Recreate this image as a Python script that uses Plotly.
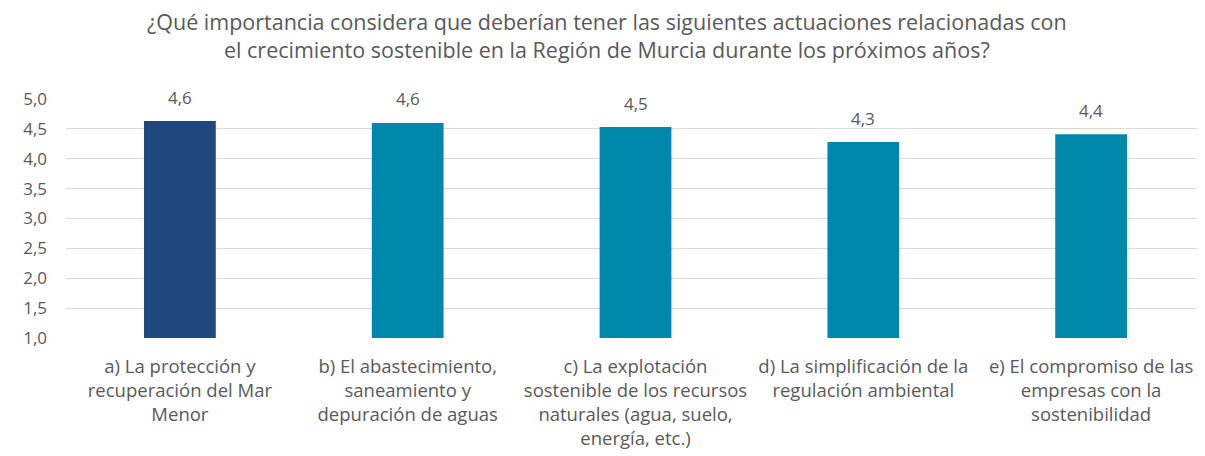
import plotly.graph_objects as go

categories = [
    "a) La protección y<br>recuperación del Mar<br>Menor",
    "b) El abastecimiento,<br>saneamiento y<br>depuración de aguas",
    "c) La explotación<br>sostenible de los recursos<br>naturales (agua, suelo,<br>energía, etc.)",
    "d) La simplificación de la<br>regulación ambiental",
    "e) El compromiso de las<br>empresas con la<br>sostenibilidad",
]
values = [4.63, 4.60, 4.53, 4.28, 4.41]
colors = ["#1F497D", "#0088AC", "#0088AC", "#0088AC", "#0088AC"]
tick_vals = [1.0, 1.5, 2.0, 2.5, 3.0, 3.5, 4.0, 4.5, 5.0]
tick_text = ["1,0", "1,5", "2,0", "2,5", "3,0", "3,5", "4,0", "4,5", "5,0"]
title = ("¿Qué importancia considera que deberían tener las siguientes actuaciones relacionadas con"
         "<br>el crecimiento sostenible en la Región de Murcia durante los próximos años?")

FONT = "'Open Sans', sans-serif"
GREY = "#595959"

fig = go.Figure()
fig.add_trace(go.Bar(
    x=categories, y=values, marker=dict(color=colors, line=dict(width=0)),
    width=0.315, hoverinfo="skip",
))
for c, v in zip(categories, values):
    fig.add_annotation(x=c, y=v, text=f"{v:.1f}".replace(".", ","), showarrow=False,
                       yshift=24, font=dict(size=17, color=GREY, family=FONT))

fig.add_annotation(text=title, xref="paper", yref="paper", x=0.475, y=1.2636,
                   xanchor="center", yanchor="middle", showarrow=False, align="center",
                   font=dict(size=21.5, color=GREY, family=FONT))

# page body has an 8px margin; figure is sized/offset to compensate
fig.update_layout(
    width=1197, height=448,
    margin=dict(l=58, r=0, t=91, b=118),
    paper_bgcolor="white", plot_bgcolor="white",
    separators=",.",
    showlegend=False,
    font=dict(family=FONT, size=17, color=GREY),
)
fig.update_yaxes(range=[1, 5], tickvals=tick_vals, ticktext=tick_text,
                 showgrid=True, gridcolor="#D9D9D9", gridwidth=1, zeroline=False,
                 showline=False, ticks="", ticklabelstandoff=18,
                 tickfont=dict(size=17, color=GREY, family=FONT))
fig.update_xaxes(showgrid=False, showline=False, ticks="", automargin=False,
                 tickfont=dict(size=18.5, color=GREY, family=FONT), tickangle=0,
                 ticklabelstandoff=15)

fig.write_html("out.html")
